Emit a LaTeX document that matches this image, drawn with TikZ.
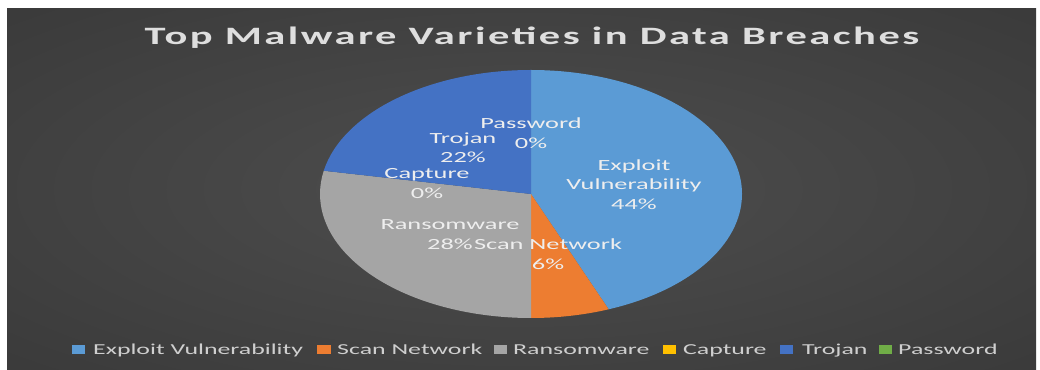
\documentclass[tikz,border=0pt]{standalone}
\usepackage{fontspec}
\newfontfamily\chartfont{Carlito}[FakeStretch=1.7]
\newfontfamily\titlefont{Carlito Bold}[FakeStretch=1.7, LetterSpace=10]
\usetikzlibrary{calc}
\definecolor{bgin}{HTML}{4E4E4E}
\definecolor{bgmid}{HTML}{383838}
\definecolor{bgout}{HTML}{242424}
\definecolor{exploitc}{HTML}{5B9BD5}
\definecolor{scanc}{HTML}{ED7D31}
\definecolor{ransomc}{HTML}{A5A5A5}
\definecolor{capturec}{HTML}{FFC000}
\definecolor{trojanc}{HTML}{4472C4}
\definecolor{passwordc}{HTML}{70AD47}
\definecolor{titletext}{HTML}{DEDEDE}
\definecolor{lbltext}{HTML}{EEEEEE}
\definecolor{lgtext}{HTML}{CFCFCF}
\pgfdeclareradialshading{bgglow}{\pgfpoint{0bp}{0bp}}{color(0bp)=(bgin); color(40bp)=(bgmid); color(72bp)=(bgout)}
\def\pieslice[#1](#2:#3){\fill[#1] (0,0) -- (#2:1) arc (#2:#3:1) -- cycle;}
\tikzset{
  lbl/.style={font=\chartfont\fontsize{15.5}{19.5}\selectfont, text=lbltext, align=center, inner sep=0pt},
  lgtext/.style={font=\chartfont\fontsize{15.2}{18}\selectfont, text=lgtext, inner sep=0pt, anchor=base west}
}

\begin{document}
\begin{tikzpicture}[x=1pt, y=1pt]
		%%%%% START %%%%%
		\useasboundingbox (0, 0) rectangle (1040, 369);
		\shade[shading=bgglow] (7, 0) rectangle (1036, 360);
		
		\node[font=\titlefont\fontsize{25}{28}\selectfont, text=titletext] (title) at (532, 331.5) {Top Malware Varieties in Data Breaches};
		
		% pie, drawn as a circle and stretched
		\begin{scope}[shift={(531, 175)}, xscale=211, yscale=124]
			\pieslice[exploitc](90:-68.4);
			\pieslice[scanc](-68.4:-90);
			\pieslice[ransomc](-90:-190.8);
			\pieslice[trojanc](169.2:90);
		\end{scope}
		
		\node[lbl] (pwlbl) at (531, 236) {Password\\0\%};
		\node[lbl] (trojanlbl) at (463, 221.5) {Trojan\\22\%};
		\node[lbl] (capturelbl) at (427, 185.5) {Capture\\0\%};
		\node[lbl] (exploitlbl) at (634, 184.5) {Exploit\\Vulnerability\\44\%};
		\node[lbl] (ransomlbl) at (450, 134.5) {Ransomware\\28\%};
		\node[lbl] (scanlbl) at (548, 115) {Scan Network\\6\%};
		
		% legend
		\fill[exploitc] (72, 15) rectangle (85, 24);
		\node[lgtext] (lgexploit) at (93, 14) {Exploit Vulnerability};
		\fill[scanc] (317, 15) rectangle (331, 24);
		\node[lgtext] (lgscan) at (337, 14) {Scan Network};
		\fill[ransomc] (494, 15) rectangle (507, 24);
		\node[lgtext] (lgransom) at (513, 14) {Ransomware};
		\fill[capturec] (663, 15) rectangle (676, 24);
		\node[lgtext] (lgcapture) at (683, 14) {Capture};
		\fill[trojanc] (780, 15) rectangle (793, 24);
		\node[lgtext] (lgtrojan) at (802, 14) {Trojan};
		\fill[passwordc] (879, 15) rectangle (892, 24);
		\node[lgtext] (lgpassword) at (898, 14) {Password};
		
		%%%%% END %%%%%
	\end{tikzpicture}
\end{document}
